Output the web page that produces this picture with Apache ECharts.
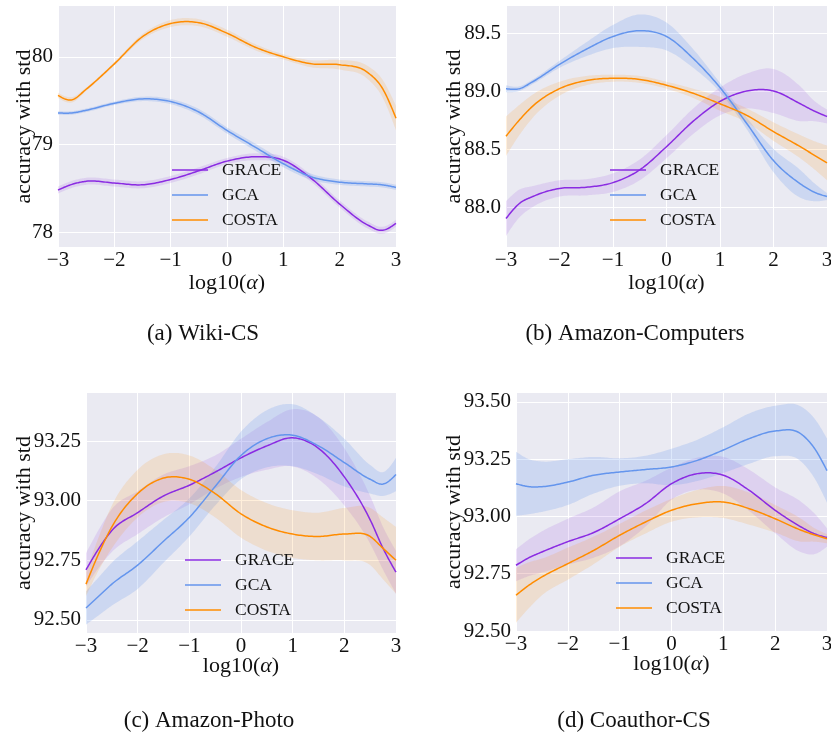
<!DOCTYPE html>
<html>
<head>
<meta charset="utf-8">
<script src="https://cdn.jsdelivr.net/npm/echarts@6/dist/echarts.min.js"></script>
<style>
  html, body { margin: 0; padding: 0; background: #fff; }
  #chart { width: 831px; height: 739px; }
</style>
</head>
<body>
<div id="chart"></div>
<script>
// x positions (log10 alpha) shared by every panel
const xs = [-3, -2.75, -2.5, -2, -1.5, -1, -0.5, 0, 0.5, 1, 1.5, 2, 2.5, 2.75, 3]
const methods = ['GRACE', 'GCA', 'COSTA']

// (a) Wiki-CS
const wikiGrace = [78.48, 78.545, 78.58, 78.56, 78.54, 78.60, 78.70, 78.81, 78.86, 78.82, 78.61, 78.32, 78.08, 78.02, 78.10]
const wikiGraceStd = [0.04, 0.04, 0.04, 0.04, 0.04, 0.04, 0.04, 0.035, 0.04, 0.04, 0.04, 0.04, 0.04, 0.04, 0.04]
const wikiGca = [79.36, 79.36, 79.39, 79.47, 79.52, 79.49, 79.37, 79.16, 78.97, 78.78, 78.63, 78.57, 78.55, 78.54, 78.51]
const wikiGcaStd = [0.02, 0.02, 0.02, 0.02, 0.025, 0.03, 0.035, 0.035, 0.04, 0.04, 0.035, 0.03, 0.03, 0.03, 0.03]
const wikiCosta = [79.56, 79.51, 79.63, 79.92, 80.23, 80.38, 80.39, 80.27, 80.11, 80.00, 79.92, 79.91, 79.82, 79.65, 79.30]
const wikiCostaStd = [0.03, 0.03, 0.02, 0.02, 0.03, 0.04, 0.04, 0.04, 0.035, 0.03, 0.04, 0.055, 0.075, 0.1, 0.14]

// (b) Amazon-Computers
const compGrace = [87.90, 88.03, 88.09, 88.16, 88.17, 88.21, 88.32, 88.52, 88.74, 88.91, 89.00, 89.00, 88.89, 88.83, 88.78]
const compGraceStd = [0.15, 0.12, 0.09, 0.07, 0.07, 0.08, 0.09, 0.1, 0.11, 0.12, 0.15, 0.19, 0.15, 0.09, 0.06]
const compGca = [89.02, 89.02, 89.08, 89.23, 89.36, 89.47, 89.52, 89.47, 89.28, 89.03, 88.72, 88.40, 88.20, 88.13, 88.09]
const compGcaStd = [0.03, 0.02, 0.02, 0.03, 0.06, 0.1, 0.14, 0.12, 0.08, 0.04, 0.05, 0.1, 0.12, 0.08, 0.03]
const compCosta = [88.61, 88.75, 88.87, 89.02, 89.09, 89.11, 89.10, 89.05, 88.98, 88.89, 88.79, 88.65, 88.52, 88.45, 88.38]
const compCostaStd = [0.17, 0.13, 0.1, 0.06, 0.04, 0.03, 0.03, 0.03, 0.04, 0.06, 0.06, 0.08, 0.1, 0.12, 0.15]

// (c) Amazon-Photo
const photoGrace = [92.71, 92.80, 92.875, 92.95, 93.02, 93.065, 93.12, 93.18, 93.23, 93.264, 93.22, 93.10, 92.92, 92.80, 92.70]
const photoGraceStd = [0.07, 0.08, 0.09, 0.09, 0.09, 0.08, 0.07, 0.08, 0.1, 0.12, 0.13, 0.12, 0.1, 0.09, 0.09]
const photoGca = [92.55, 92.60, 92.65, 92.73, 92.83, 92.93, 93.06, 93.19, 93.26, 93.275, 93.23, 93.16, 93.09, 93.07, 93.11]
const photoGcaStd = [0.07, 0.08, 0.09, 0.1, 0.09, 0.08, 0.08, 0.1, 0.12, 0.13, 0.12, 0.1, 0.06, 0.05, 0.07]
const photoCosta = [92.65, 92.78, 92.89, 93.03, 93.095, 93.09, 93.03, 92.945, 92.89, 92.86, 92.85, 92.86, 92.85, 92.80, 92.75]
const photoCostaStd = [0.05, 0.07, 0.09, 0.1, 0.1, 0.1, 0.1, 0.1, 0.1, 0.1, 0.1, 0.11, 0.12, 0.13, 0.14]

// (d) Coauthor-CS
const csGrace = [92.787, 92.82, 92.845, 92.89, 92.93, 92.99, 93.056, 93.143, 93.187, 93.18, 93.114, 93.027, 92.954, 92.925, 92.908]
const csGraceStd = [0.07, 0.08, 0.09, 0.1, 0.11, 0.12, 0.1, 0.07, 0.07, 0.08, 0.09, 0.1, 0.11, 0.09, 0.04]
const csGca = [93.143, 93.13, 93.13, 93.15, 93.18, 93.194, 93.205, 93.216, 93.245, 93.29, 93.34, 93.373, 93.36, 93.30, 93.20]
const csGcaStd = [0.14, 0.12, 0.11, 0.1, 0.08, 0.06, 0.06, 0.08, 0.09, 0.1, 0.11, 0.11, 0.12, 0.13, 0.14]
const csCosta = [92.656, 92.70, 92.736, 92.794, 92.852, 92.918, 92.976, 93.027, 93.056, 93.063, 93.034, 92.99, 92.94, 92.92, 92.903]
const csCostaStd = [0.12, 0.1, 0.08, 0.07, 0.06, 0.05, 0.05, 0.05, 0.06, 0.07, 0.07, 0.06, 0.05, 0.03, 0.02]

// tick labels
const wikiTicks = [78, 79, 80]
const compTicks = [88.0, 88.5, 89.0, 89.5]
const photoTicks = [92.50, 92.75, 93.00, 93.25]
const csTicks = [92.50, 92.75, 93.00, 93.25, 93.50]

const captions = ['(a) Wiki-CS', '(b) Amazon-Computers', '(c) Amazon-Photo', '(d) Coauthor-CS']

const colors = { GRACE: '#8a2be2', GCA: '#6495ed', COSTA: '#ff8c00' }
const bandColors = { GRACE: 'rgba(138,43,226,0.13)', GCA: 'rgba(100,149,237,0.22)', COSTA: 'rgba(255,140,0,0.14)' }

const serif = 'Liberation Serif'

// panel layout (pixels)
const panels = [
  { grid: { left: 58, top: 6, width: 338, height: 241 }, yMin: 77.83, yMax: 80.58, ticks: wikiTicks, dec: 0, yGap: 23, xGap: 25,
    legend: { left: 172, top: 161 }, caption: [203, 334],
    data: { GRACE: [wikiGrace, wikiGraceStd], GCA: [wikiGca, wikiGcaStd], COSTA: [wikiCosta, wikiCostaStd] } },
  { grid: { left: 506, top: 6, width: 321, height: 241 }, yMin: 87.655, yMax: 89.733, ticks: compTicks, dec: 1, yGap: 41, xGap: 25,
    legend: { left: 610, top: 161 }, caption: [635, 334],
    data: { GRACE: [compGrace, compGraceStd], GCA: [compGca, compGcaStd], COSTA: [compCosta, compCostaStd] } },
  { grid: { left: 86, top: 393, width: 310, height: 240 }, yMin: 92.445, yMax: 93.452, ticks: photoTicks, dec: 2, yGap: 51, xGap: 22,
    legend: { left: 185, top: 551 }, caption: [209, 721],
    data: { GRACE: [photoGrace, photoGraceStd], GCA: [photoGca, photoGcaStd], COSTA: [photoCosta, photoCostaStd] } },
  { grid: { left: 516, top: 393, width: 311, height: 238 }, yMin: 92.5, yMax: 93.539, ticks: csTicks, dec: 2, yGap: 51, xGap: 22,
    legend: { left: 616, top: 549 }, caption: [634, 721],
    data: { GRACE: [csGrace, csGraceStd], GCA: [csGca, csGcaStd], COSTA: [csCosta, csCostaStd] } }
]

// smooth curve through already-projected pixel points (cubic hermite, like a spline plot)
function smoothPts(px, py) {
  const n = px.length
  const h = [], d = [], m = []
  for (let i = 0; i < n - 1; i++) {
    h.push(px[i + 1] - px[i])
    d.push((py[i + 1] - py[i]) / h[i])
  }
  for (let i = 1; i < n - 1; i++) {
    m[i] = (d[i - 1] * h[i] + d[i] * h[i - 1]) / (h[i - 1] + h[i])
  }
  m[0] = (3 * d[0] - m[1]) / 2
  m[n - 1] = (3 * d[n - 2] - m[n - 2]) / 2
  const out = []
  const steps = 16
  for (let i = 0; i < n - 1; i++) {
    for (let s = 0; s < steps; s++) {
      const t = s / steps
      const t2 = t * t, t3 = t2 * t
      const y = (2 * t3 - 3 * t2 + 1) * py[i] + (t3 - 2 * t2 + t) * h[i] * m[i] +
        (-2 * t3 + 3 * t2) * py[i + 1] + (t3 - t2) * h[i] * m[i + 1]
      out.push([px[i] + t * h[i], y])
    }
  }
  out.push([px[n - 1], py[n - 1]])
  return out
}

function project(api, ys) {
  const px = [], py = []
  xs.forEach(function(x, k) {
    const c = api.coord([x, ys[k]])
    px.push(c[0])
    py.push(c[1])
  })
  return smoothPts(px, py)
}

const grids = []
const xAxes = []
const yAxes = []
const legends = []
const series = []
const graphics = []

panels.forEach(function(p, i) {
  grids.push(Object.assign({
    show: true,
    backgroundColor: '#eaeaf2',
    borderWidth: 0,
    outerBoundsMode: 'none'
  }, p.grid))

  xAxes.push({
    type: 'value',
    gridIndex: i,
    min: -3,
    max: 3,
    interval: 1,
    axisLine: { show: false },
    axisTick: { show: false },
    splitLine: { show: true, lineStyle: { color: '#fff', width: 1 } },
    axisLabel: {
      show: true,
      margin: 3,
      fontFamily: serif,
      fontSize: 21,
      color: '#111',
      formatter: function(v) { return v < 0 ? '\u2212' + Math.abs(v) : String(v) }
    },
    name: 'log10({it|\u03b1})',
    nameLocation: 'middle',
    nameGap: p.xGap,
    nameMoveOverlap: false,
    nameTextStyle: {
      fontFamily: serif,
      fontSize: 22,
      color: '#111',
      rich: { it: { fontFamily: serif, fontStyle: 'italic', fontSize: 22, color: '#111' } }
    }
  })

  yAxes.push({
    type: 'value',
    gridIndex: i,
    min: p.yMin,
    max: p.yMax,
    axisLine: { show: false },
    axisTick: { show: false, customValues: p.ticks },
    splitLine: { show: true, lineStyle: { color: '#fff', width: 1 } },
    axisLabel: {
      margin: 5,
      fontFamily: serif,
      fontSize: 21,
      color: '#111',
      customValues: p.ticks,
      formatter: function(v) { return v.toFixed(p.dec) }
    },
    name: 'accuracy with std',
    nameLocation: 'middle',
    nameRotate: 90,
    nameGap: p.yGap,
    nameMoveOverlap: false,
    nameTextStyle: { fontFamily: serif, fontSize: 22, color: '#111' }
  })

  legends.push({
    data: methods.map(function(m) { return { name: m, icon: 'rect' } }),
    left: p.legend.left,
    top: p.legend.top,
    padding: 0,
    orient: 'vertical',
    itemWidth: 36,
    itemHeight: 1.6,
    itemGap: 7,
    selectedMode: false,
    textStyle: { fontFamily: serif, fontSize: 17.5, color: '#111', padding: [0, 0, 0, 9] }
  })

  // std bands first, then mean lines on top
  methods.forEach(function(m) {
    const mean = p.data[m][0]
    const std = p.data[m][1]
    const lo = mean.map(function(v, k) { return v - std[k] })
    const hi = mean.map(function(v, k) { return v + std[k] })
    series.push({
      name: m + '-band-' + i,
      type: 'custom',
      xAxisIndex: i,
      yAxisIndex: i,
      silent: true,
      z: 1,
      encode: { x: 0, y: [1, 2] },
      data: xs.map(function(x, k) { return [x, lo[k], hi[k]] }),
      renderItem: function(params, api) {
        if (params.dataIndex !== 0) return null
        const top = project(api, hi)
        const bottom = project(api, lo).reverse()
        return {
          type: 'polygon',
          shape: { points: top.concat(bottom) },
          style: { fill: bandColors[m], stroke: null }
        }
      }
    })
  })
  methods.forEach(function(m) {
    const mean = p.data[m][0]
    series.push({
      name: m,
      type: 'custom',
      xAxisIndex: i,
      yAxisIndex: i,
      silent: true,
      z: 3,
      itemStyle: { color: colors[m] },
      encode: { x: 0, y: 1 },
      data: xs.map(function(x, k) { return [x, mean[k]] }),
      renderItem: function(params, api) {
        if (params.dataIndex !== 0) return null
        return {
          type: 'polyline',
          shape: { points: project(api, mean) },
          style: { stroke: colors[m], lineWidth: 1.5, fill: null }
        }
      }
    })
  })

  graphics.push({
    type: 'text',
    x: p.caption[0],
    y: p.caption[1],
    style: {
      text: captions[i],
      fontFamily: serif,
      fontSize: 23,
      fill: '#111',
      textAlign: 'center',
      textVerticalAlign: 'middle'
    }
  })
})

const chart = echarts.init(document.getElementById('chart'), null, { renderer: 'canvas' })
chart.setOption({
  animation: false,
  backgroundColor: '#fff',
  grid: grids,
  xAxis: xAxes,
  yAxis: yAxes,
  legend: legends,
  series: series,
  graphic: graphics
})
</script>
</body>
</html>
